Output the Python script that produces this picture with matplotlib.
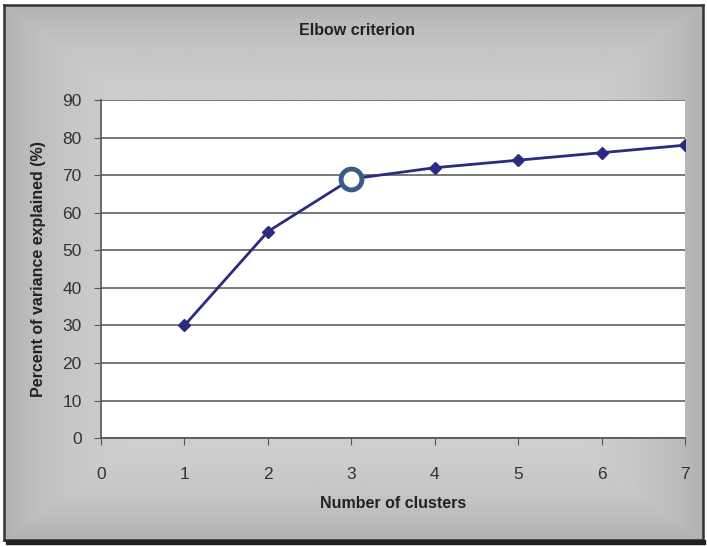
import matplotlib
matplotlib.use("Agg")
import matplotlib.pyplot as plt
import numpy as np
from matplotlib.patches import Rectangle

plt.rcParams['font.family'] = ['Liberation Sans', 'DejaVu Sans']

clusters = [1, 2, 3, 4, 5, 6, 7]
variance = [30, 55, 69, 72, 74, 76, 78]
elbow_k = 3
elbow_v = 69

fig = plt.figure(figsize=(7.07, 5.47), dpi=100)
fig.patch.set_facecolor('white')

# gray gradient background with a frame
bg = fig.add_axes([0.006, 0.012, 0.988, 0.978])
yy, xx = np.mgrid[-1:1:200j, -1:1:200j]
shade = 0.82 - 0.12 * np.clip(np.maximum(np.abs(xx) ** 5, np.abs(yy) ** 5), 0, 1)
bg.imshow(shade, cmap='gray', vmin=0, vmax=1, aspect='auto', extent=[0, 1, 0, 1])
bg.set_xlim(0, 1)
bg.set_ylim(0, 1)
bg.set_xticks([])
bg.set_yticks([])
for s in bg.spines.values():
    s.set_color('#333333')
    s.set_linewidth(1.8)
# drop shadow
fig.patches.append(Rectangle((0.009, 0.006), 0.988, 0.006, transform=fig.transFigure,
                             color='#222222', zorder=0))

ax = fig.add_axes([0.1429, 0.199, 0.826, 0.618])
ax.set_facecolor('white')
ax.plot(clusters, variance, color='#2b2b80', lw=2, marker='D', ms=6,
        markerfacecolor='#2b2b80', markeredgecolor='#2b2b80', zorder=3)
ax.plot([elbow_k], [elbow_v], marker='o', ms=15, markerfacecolor='white',
        markeredgecolor='#3a5a8a', markeredgewidth=3.5, zorder=4, clip_on=False)

ax.set_xlim(0, 7)
ax.set_ylim(0, 90)
ax.set_xticks(range(0, 8))
ax.set_yticks(range(0, 91, 10))
ax.grid(axis='y', color='#606060', lw=1.2)
ax.set_axisbelow(True)
ax.tick_params(axis='both', direction='out', length=5, color='#555555',
               labelsize=12.5, labelcolor='#333333')
ax.tick_params(axis='x', pad=16)
ax.tick_params(axis='y', pad=9)
for side in ['top', 'right']:
    ax.spines[side].set_visible(False)
for side in ['left', 'bottom']:
    ax.spines[side].set_color('#555555')
    ax.spines[side].set_linewidth(1.2)

ax.set_xlabel('Number of clusters', fontsize=11.5, fontweight='bold', color='#222222', labelpad=10)
ax.set_ylabel('Percent of variance explained (%)', fontsize=11.5, fontweight='bold',
              color='#222222', labelpad=12)
fig.text(0.505, 0.945, 'Elbow criterion', ha='center', va='center', fontsize=11.5,
         fontweight='bold', color='#222222')

fig.savefig('out.png', dpi=100)
